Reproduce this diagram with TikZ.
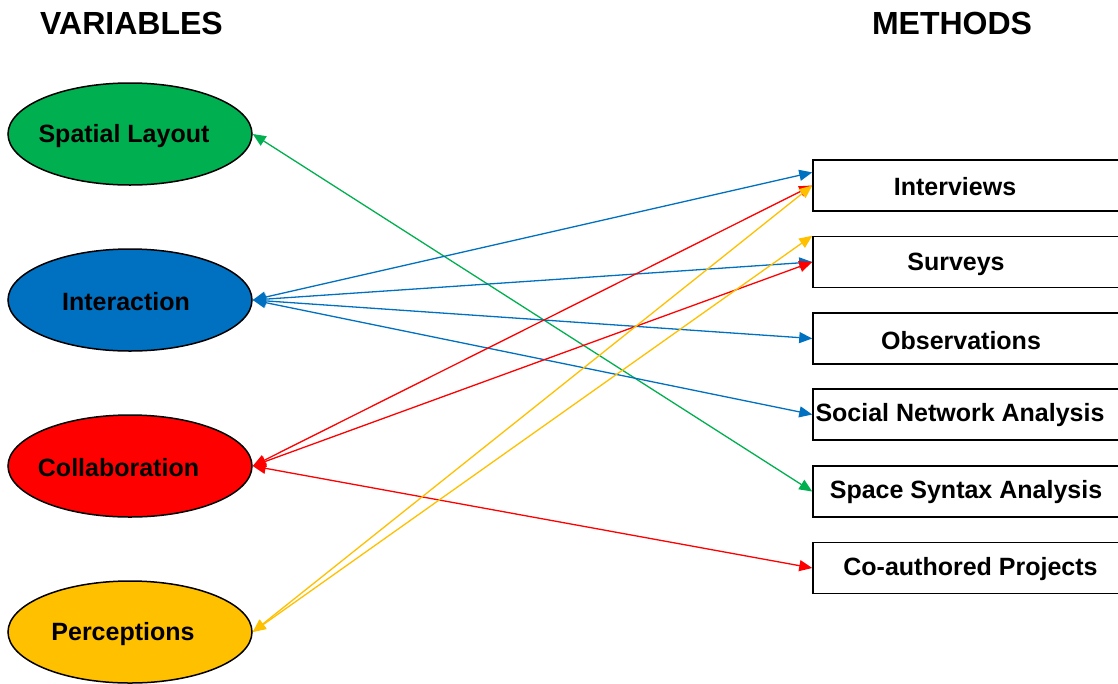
\documentclass[tikz,border=0pt]{standalone}
\usepackage{fontspec}
\setmainfont{Liberation Sans}
\usetikzlibrary{shapes.geometric,arrows.meta,calc}
\definecolor{cgreen}{HTML}{00B050}
\definecolor{cblue}{HTML}{0070C0}
\definecolor{cred}{HTML}{FF0000}
\definecolor{cyellow}{HTML}{FFC000}
\begin{document}
\begin{tikzpicture}[x=1pt,y=-1pt,
  varell/.style={ellipse,draw=black,line width=1.5pt,minimum width=244pt,minimum height=102pt,inner sep=0pt},
  methbox/.style={rectangle,draw=black,line width=1.5pt,minimum width=310pt,minimum height=51pt,inner sep=0pt,fill=white},
  lbl/.style={font=\fontsize{25}{30}\selectfont\bfseries,inner sep=0pt,yshift=-2pt},
  ttl/.style={font=\fontsize{32}{38}\selectfont\bfseries,inner sep=0pt},
  conn/.style={line width=1.3pt,{Triangle[length=13pt,width=11pt]}-{Triangle[length=13pt,width=11pt]}}]
\useasboundingbox (0,0) rectangle (1118,683);
\clip (0,0) rectangle (1118,683);

\node[ttl] (tv) at (131.5,23) {VARIABLES};
\node[ttl] (tm) at (952,23) {METHODS};

\node[varell,fill=cgreen] (sl) at (130,134) {};
\node[varell,fill=cblue] (ia) at (130,300) {};
\node[varell,fill=cred] (co) at (130,466) {};
\node[varell,fill=cyellow] (pe) at (130,632) {};
\node[lbl] (slt) at (124,134) {Spatial Layout};
\node[lbl] (iat) at (126,300) {Interaction};
\node[lbl] (cot) at (118.5,466) {Collaboration};
\node[lbl] (pet) at (123,632) {Perceptions};

\node[methbox] (iv) at (968,185.5) {};
\node[methbox] (sv) at (968,262) {};
\node[methbox] (ob) at (968,338.5) {};
\node[methbox] (sna) at (968,414.5) {};
\node[methbox] (ss) at (968,491.5) {};
\node[methbox] (cp) at (968,568) {};
\node[lbl] (ivt) at (955,185) {Interviews};
\node[lbl] (svt) at (956,262) {Surveys};
\node[lbl] (obt) at (961,339) {Observations};
\node[lbl] (snat) at (960,413) {Social Network Analysis};
\node[lbl] (sst) at (966,490) {Space Syntax Analysis};
\node[lbl] (cpt) at (970.5,567) {Co-authored Projects};

\coordinate (ivq) at ($(iv.north west)!0.25!(iv.south west)$);

\draw[conn,cgreen] (sl.east) -- (ss.west);
\draw[conn,cblue] (ia.east) -- (ivq);
\draw[conn,cblue] (ia.east) -- (sv.west);
\draw[conn,cblue] (ia.east) -- (ob.west);
\draw[conn,cblue] (ia.east) -- (sna.west);
\draw[conn,cred] (co.east) -- (iv.west);
\draw[conn,cred] (co.east) -- (sv.west);
\draw[conn,cred] (co.east) -- (cp.west);
\draw[conn,cyellow] (pe.east) -- (iv.west);
\draw[conn,cyellow] (pe.east) -- (sv.north west);
\end{tikzpicture}
\end{document}
